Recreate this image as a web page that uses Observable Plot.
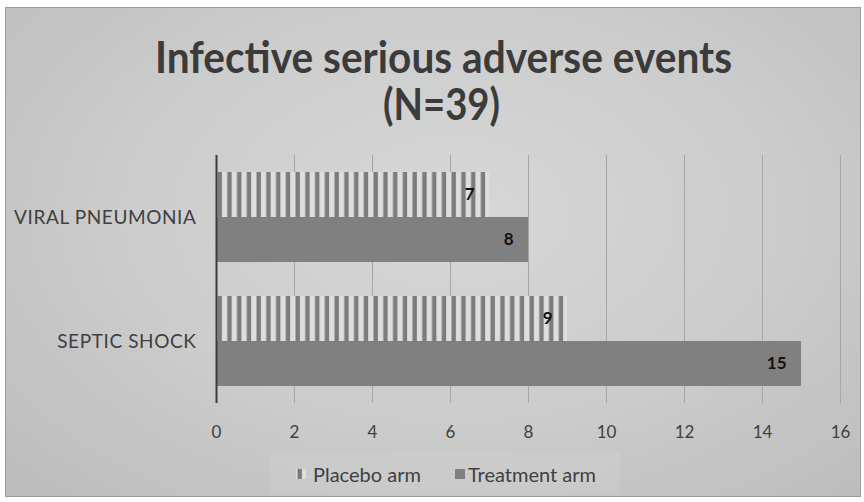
<!DOCTYPE html>
<html>
<head>
<meta charset="utf-8">
<script src="https://cdn.jsdelivr.net/npm/d3@7"></script>
<script src="https://cdn.jsdelivr.net/npm/@observablehq/plot@0.6"></script>
<style>
  html, body { margin: 0; padding: 0; background: #fff; }
  body { width: 864px; height: 502px; position: relative; overflow: hidden; font-family: Lato, "Open Sans", sans-serif; }
  #frame {
    position: absolute; left: 5px; top: 7px; width: 854px; height: 488px;
    border: 1px solid #9d9d9d;
    background: radial-gradient(ellipse 70% 78% at 52% 42%, #d7d7d7 0%, #cccccc 55%, #bdbdbd 100%);
  }
  #title { position: absolute; left: 0; top: 0; }
  #chart { position: absolute; left: 0; top: 150px; }
  #chart .fy-labels text { letter-spacing: 0.6px; }
  #legend {
    position: absolute; left: 270px; top: 453px; width: 350px; height: 42px;
    background: rgba(255, 255, 255, 0.07);
  }
  .legend-item { position: absolute; top: 0; height: 42px; line-height: 42px; font-size: 20px; color: #404040; white-space: nowrap; }
  .swatch { position: absolute; top: 16px; }
</style>
</head>
<body>
<div id="frame"></div>
<svg id="title" width="864" height="140">
  <text x="443.5" y="73" text-anchor="middle" font-family="Lato, sans-serif" font-weight="700" font-size="44" fill="#3b3b3b"
        textLength="577" lengthAdjust="spacingAndGlyphs">Infective serious adverse events</text>
  <text x="441.5" y="120" text-anchor="middle" font-family="Lato, sans-serif" font-weight="700" font-size="44" fill="#3b3b3b"
        textLength="117" lengthAdjust="spacingAndGlyphs">(N=39)</text>
</svg>
<div id="chart"></div>
<div id="legend"></div>
<script>
// Event counts per infection type and study arm
const categories = ["VIRAL PNEUMONIA", "SEPTIC SHOCK"];
const arms = ["Placebo arm", "Treatment arm"];
const placeboCounts = [7, 9];
const treatmentCounts = [8, 15];
const xTicks = [0, 2, 4, 6, 8, 10, 12, 14, 16];

const rows = categories.flatMap((category, i) => [
  { category, arm: arms[0], value: placeboCounts[i] },
  { category, arm: arms[1], value: treatmentCounts[i] }
]);

const STRIPES = "placebo-stripes";
const armFills = [`url(#${STRIPES})`, "#808080"];

const chart = Plot.plot({
  width: 864,
  height: 295,
  marginLeft: 216,
  marginRight: 24,
  marginTop: 5,
  marginBottom: 42,
  style: { background: "transparent", fontFamily: "Lato, sans-serif", color: "#404040", overflow: "visible" },
  x: { domain: [0, 16], axis: null },
  y: { domain: arms, axis: null, paddingInner: 0, paddingOuter: 0.36 },
  fy: { domain: categories, axis: null, padding: 0, label: null },
  color: { domain: arms, range: armFills },
  marks: [
    Plot.gridX(xTicks, { stroke: "#a6a6a6", strokeOpacity: 1 }),
    Plot.barX(rows, { x: "value", y: "arm", fy: "category", fill: "arm" }),
    Plot.ruleX([0], { stroke: "#3c3c3c", strokeWidth: 2 }),
    Plot.text(rows, {
      x: "value", y: "arm", fy: "category",
      text: d => String(d.value),
      textAnchor: "end", dx: -15,
      fontWeight: "bold", fontSize: 17, fill: "#111"
    }),
    Plot.axisX(xTicks, { anchor: "bottom", tickSize: 0, tickPadding: 22, fontSize: 17, label: null }),
    Plot.axisFy({ anchor: "left", tickSize: 0, tickPadding: 20, fontSize: 19, label: null, className: "fy-labels" })
  ]
});

// Vertical hatch used for the placebo bars
const ns = "http://www.w3.org/2000/svg";
function stripePattern(id, x0) {
  const pattern = document.createElementNS(ns, "pattern");
  pattern.setAttribute("id", id);
  pattern.setAttribute("patternUnits", "userSpaceOnUse");
  pattern.setAttribute("x", x0);
  pattern.setAttribute("width", 9.75);
  pattern.setAttribute("height", 10);
  const bg = document.createElementNS(ns, "rect");
  bg.setAttribute("width", 9.75); bg.setAttribute("height", 10); bg.setAttribute("fill", "#dedede");
  const fg = document.createElementNS(ns, "rect");
  fg.setAttribute("x", 1.5); fg.setAttribute("width", 4.4); fg.setAttribute("height", 10); fg.setAttribute("fill", "#7c7c7c");
  pattern.append(bg, fg);
  return pattern;
}
const defs = document.createElementNS(ns, "defs");
defs.append(stripePattern(STRIPES, 216));
chart.insertBefore(defs, chart.firstChild);
document.getElementById("chart").append(chart);

// Legend
const legend = document.getElementById("legend");
const legendLayout = [
  { swatchX: 26, textX: 43 },
  { swatchX: 185, textX: 198 }
];
arms.forEach((arm, i) => {
  const sw = document.createElementNS(ns, "svg");
  sw.setAttribute("class", "swatch");
  sw.setAttribute("width", 10); sw.setAttribute("height", 10);
  sw.style.left = legendLayout[i].swatchX + "px";
  if (i === 0) {
    const d = document.createElementNS(ns, "defs");
    d.append(stripePattern("legend-stripes", 0));
    sw.append(d);
  }
  const r = document.createElementNS(ns, "rect");
  r.setAttribute("width", 10); r.setAttribute("height", 10);
  r.setAttribute("fill", i === 0 ? "url(#legend-stripes)" : armFills[1]);
  sw.append(r);
  legend.append(sw);
  const label = document.createElement("div");
  label.className = "legend-item";
  label.style.left = legendLayout[i].textX + "px";
  label.textContent = arm;
  legend.append(label);
});
</script>
</body>
</html>
